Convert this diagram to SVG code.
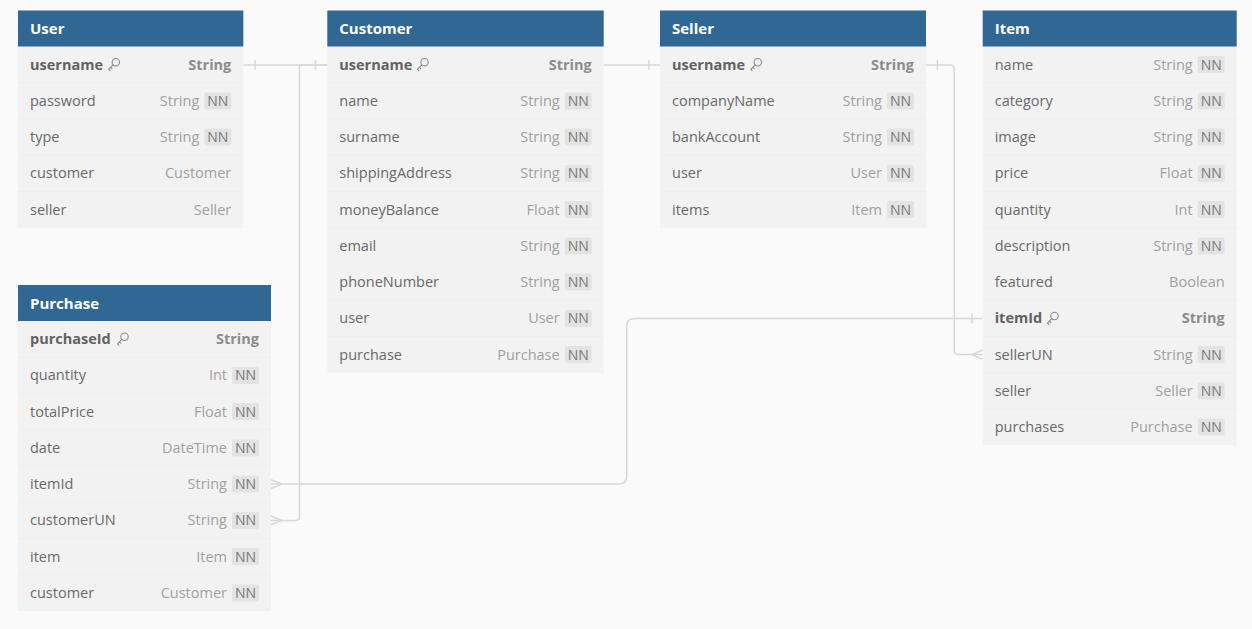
<svg xmlns="http://www.w3.org/2000/svg" width="1252" height="629" viewBox="0 0 1252 629">
<style>
.bg{fill:#fafafa}
.body{fill:#f2f2f2}
.hd{fill:#306793}
.hdt{font-family:"Open Sans","Liberation Sans",sans-serif;font-size:15px;font-weight:700;fill:#ffffff}
.nm{font-family:"Open Sans","Liberation Sans",sans-serif;font-size:14.5px;fill:#696969}
.pk{font-weight:700;fill:#626262}
.ty{font-family:"Open Sans","Liberation Sans",sans-serif;font-size:14.5px;fill:#a0a0a0;text-anchor:end}
.tyb{font-weight:700;fill:#8c8c8c}
.nn{fill:#e3e3e3}
.nnt{font-family:"Open Sans","Liberation Sans",sans-serif;font-size:14px;fill:#787878;text-anchor:middle}
.sep{stroke:#eeeeee;stroke-width:1}
.cn{fill:none;stroke:#d8d8d8;stroke-width:1.5}
.key{fill:none;stroke:#8a8a8a;stroke-width:1.1;stroke-linecap:round;stroke-linejoin:round}
</style>
<defs>
<g id="key" class="key">
<circle cx="8.3" cy="4.6" r="3.7"/>
<path d="M5.6 7.3 L1.2 11.7 L2.6 13 M3.2 9.7 L4.6 11.1"/>
</g>
</defs>
<rect class="bg" x="0" y="0" width="1252" height="629"/>

<g id="connectors">
<!-- User.username - Customer.username -->
<path class="cn" d="M243.3 65 H327.3 M255 60 V70 M315.5 60 V70"/>
<!-- User.username - Seller.username (visible between Customer and Seller) -->
<path class="cn" d="M603.7 65 H660 M649 60 V70"/>
<!-- Customer.username - Purchase.customerUN -->
<path class="cn" d="M327.3 65 H299.5 V516.4 Q299.5 520.4 295.5 520.4 H271"/>
<path class="cn" d="M282 520.4 L271 516 M282 520.4 L271 524.8"/>
<!-- Item.itemId - Purchase.itemId -->
<path class="cn" d="M271 484.1 H618.7 Q626.7 484.1 626.7 476.1 V326.4 Q626.7 318.4 634.7 318.4 H982.7 M972 313.5 V323.3"/>
<path class="cn" d="M282 484.1 L271 479.7 M282 484.1 L271 488.5"/>
<!-- Seller.username - Item.sellerUN -->
<path class="cn" d="M926 65 H950.3 Q954.3 65 954.3 69 V350.6 Q954.3 354.6 958.3 354.6 H982.7 M937.3 60 V70"/>
<path class="cn" d="M972 354.6 L982.7 350 M972 354.6 L982.7 359.2"/>
</g>

<g id="User">
<rect class="body" x="18" y="10.5" width="225.3" height="217.25"/>
<rect class="hd" x="18" y="10.5" width="225.3" height="36"/>
<text class="hdt" x="30" y="34">User</text>
<path class="sep" d="M18 82.75 H243.3 M18 119 H243.3 M18 155.25 H243.3 M18 191.5 H243.3"/>
<text class="nm pk" x="30" y="69.6">username</text><use href="#key" x="107.5" y="57.6"/><text class="ty tyb" x="231.3" y="69.6">String</text>
<text class="nm" x="30" y="105.9">password</text><text class="ty" x="199.3" y="105.9">String</text><rect class="nn" x="204.3" y="92.4" width="27" height="17" rx="2"/><text class="nnt" x="217.8" y="105.9">NN</text>
<text class="nm" x="30" y="142.1">type</text><text class="ty" x="199.3" y="142.1">String</text><rect class="nn" x="204.3" y="128.6" width="27" height="17" rx="2"/><text class="nnt" x="217.8" y="142.1">NN</text>
<text class="nm" x="30" y="178.4">customer</text><text class="ty" x="231.3" y="178.4">Customer</text>
<text class="nm" x="30" y="214.6">seller</text><text class="ty" x="231.3" y="214.6">Seller</text>
</g>

<g id="Customer">
<rect class="body" x="327.3" y="10.5" width="276.4" height="362.25"/>
<rect class="hd" x="327.3" y="10.5" width="276.4" height="36"/>
<text class="hdt" x="339.3" y="34">Customer</text>
<path class="sep" d="M327.3 82.75 H603.7 M327.3 119 H603.7 M327.3 155.25 H603.7 M327.3 191.5 H603.7 M327.3 227.75 H603.7 M327.3 264 H603.7 M327.3 300.25 H603.7 M327.3 336.5 H603.7"/>
<text class="nm pk" x="339.3" y="69.6">username</text><use href="#key" x="416.2" y="57.6"/><text class="ty tyb" x="591.7" y="69.6">String</text>
<text class="nm" x="339.3" y="105.9">name</text><text class="ty" x="559.7" y="105.9">String</text><rect class="nn" x="564.7" y="92.4" width="27" height="17" rx="2"/><text class="nnt" x="578.2" y="105.9">NN</text>
<text class="nm" x="339.3" y="142.1">surname</text><text class="ty" x="559.7" y="142.1">String</text><rect class="nn" x="564.7" y="128.6" width="27" height="17" rx="2"/><text class="nnt" x="578.2" y="142.1">NN</text>
<text class="nm" x="339.3" y="178.4">shippingAddress</text><text class="ty" x="559.7" y="178.4">String</text><rect class="nn" x="564.7" y="164.9" width="27" height="17" rx="2"/><text class="nnt" x="578.2" y="178.4">NN</text>
<text class="nm" x="339.3" y="214.6">moneyBalance</text><text class="ty" x="559.7" y="214.6">Float</text><rect class="nn" x="564.7" y="201.1" width="27" height="17" rx="2"/><text class="nnt" x="578.2" y="214.6">NN</text>
<text class="nm" x="339.3" y="250.9">email</text><text class="ty" x="559.7" y="250.9">String</text><rect class="nn" x="564.7" y="237.4" width="27" height="17" rx="2"/><text class="nnt" x="578.2" y="250.9">NN</text>
<text class="nm" x="339.3" y="287.1">phoneNumber</text><text class="ty" x="559.7" y="287.1">String</text><rect class="nn" x="564.7" y="273.6" width="27" height="17" rx="2"/><text class="nnt" x="578.2" y="287.1">NN</text>
<text class="nm" x="339.3" y="323.4">user</text><text class="ty" x="559.7" y="323.4">User</text><rect class="nn" x="564.7" y="309.9" width="27" height="17" rx="2"/><text class="nnt" x="578.2" y="323.4">NN</text>
<text class="nm" x="339.3" y="359.6">purchase</text><text class="ty" x="559.7" y="359.6">Purchase</text><rect class="nn" x="564.7" y="346.1" width="27" height="17" rx="2"/><text class="nnt" x="578.2" y="359.6">NN</text>
</g>

<g id="Seller">
<rect class="body" x="660" y="10.5" width="266" height="217.25"/>
<rect class="hd" x="660" y="10.5" width="266" height="36"/>
<text class="hdt" x="672" y="34">Seller</text>
<path class="sep" d="M660 82.75 H926 M660 119 H926 M660 155.25 H926 M660 191.5 H926"/>
<text class="nm pk" x="672" y="69.6">username</text><use href="#key" x="749.5" y="57.6"/><text class="ty tyb" x="914" y="69.6">String</text>
<text class="nm" x="672" y="105.9">companyName</text><text class="ty" x="882" y="105.9">String</text><rect class="nn" x="887" y="92.4" width="27" height="17" rx="2"/><text class="nnt" x="900.5" y="105.9">NN</text>
<text class="nm" x="672" y="142.1">bankAccount</text><text class="ty" x="882" y="142.1">String</text><rect class="nn" x="887" y="128.6" width="27" height="17" rx="2"/><text class="nnt" x="900.5" y="142.1">NN</text>
<text class="nm" x="672" y="178.4">user</text><text class="ty" x="882" y="178.4">User</text><rect class="nn" x="887" y="164.9" width="27" height="17" rx="2"/><text class="nnt" x="900.5" y="178.4">NN</text>
<text class="nm" x="672" y="214.6">items</text><text class="ty" x="882" y="214.6">Item</text><rect class="nn" x="887" y="201.1" width="27" height="17" rx="2"/><text class="nnt" x="900.5" y="214.6">NN</text>
</g>

<g id="Item">
<rect class="body" x="982.7" y="10.5" width="254" height="434.75"/>
<rect class="hd" x="982.7" y="10.5" width="254" height="36"/>
<text class="hdt" x="994.7" y="34">Item</text>
<path class="sep" d="M982.7 82.75 H1236.7 M982.7 119 H1236.7 M982.7 155.25 H1236.7 M982.7 191.5 H1236.7 M982.7 227.75 H1236.7 M982.7 264 H1236.7 M982.7 300.25 H1236.7 M982.7 336.5 H1236.7 M982.7 372.75 H1236.7 M982.7 409 H1236.7"/>
<text class="nm" x="994.7" y="69.6">name</text><text class="ty" x="1192.7" y="69.6">String</text><rect class="nn" x="1197.7" y="56.1" width="27" height="17" rx="2"/><text class="nnt" x="1211.2" y="69.6">NN</text>
<text class="nm" x="994.7" y="105.9">category</text><text class="ty" x="1192.7" y="105.9">String</text><rect class="nn" x="1197.7" y="92.4" width="27" height="17" rx="2"/><text class="nnt" x="1211.2" y="105.9">NN</text>
<text class="nm" x="994.7" y="142.1">image</text><text class="ty" x="1192.7" y="142.1">String</text><rect class="nn" x="1197.7" y="128.6" width="27" height="17" rx="2"/><text class="nnt" x="1211.2" y="142.1">NN</text>
<text class="nm" x="994.7" y="178.4">price</text><text class="ty" x="1192.7" y="178.4">Float</text><rect class="nn" x="1197.7" y="164.9" width="27" height="17" rx="2"/><text class="nnt" x="1211.2" y="178.4">NN</text>
<text class="nm" x="994.7" y="214.6">quantity</text><text class="ty" x="1192.7" y="214.6">Int</text><rect class="nn" x="1197.7" y="201.1" width="27" height="17" rx="2"/><text class="nnt" x="1211.2" y="214.6">NN</text>
<text class="nm" x="994.7" y="250.9">description</text><text class="ty" x="1192.7" y="250.9">String</text><rect class="nn" x="1197.7" y="237.4" width="27" height="17" rx="2"/><text class="nnt" x="1211.2" y="250.9">NN</text>
<text class="nm" x="994.7" y="287.1">featured</text><text class="ty" x="1224.7" y="287.1">Boolean</text>
<text class="nm pk" x="994.7" y="323.4">itemId</text><use href="#key" x="1046.2" y="311.4"/><text class="ty tyb" x="1224.7" y="323.4">String</text>
<text class="nm" x="994.7" y="359.6">sellerUN</text><text class="ty" x="1192.7" y="359.6">String</text><rect class="nn" x="1197.7" y="346.1" width="27" height="17" rx="2"/><text class="nnt" x="1211.2" y="359.6">NN</text>
<text class="nm" x="994.7" y="395.9">seller</text><text class="ty" x="1192.7" y="395.9">Seller</text><rect class="nn" x="1197.7" y="382.4" width="27" height="17" rx="2"/><text class="nnt" x="1211.2" y="395.9">NN</text>
<text class="nm" x="994.7" y="432.1">purchases</text><text class="ty" x="1192.7" y="432.1">Purchase</text><rect class="nn" x="1197.7" y="418.6" width="27" height="17" rx="2"/><text class="nnt" x="1211.2" y="432.1">NN</text>
</g>

<g id="Purchase">
<rect class="body" x="18" y="285" width="253" height="326"/>
<rect class="hd" x="18" y="285" width="253" height="36"/>
<text class="hdt" x="30" y="308.5">Purchase</text>
<path class="sep" d="M18 357.25 H271 M18 393.5 H271 M18 429.75 H271 M18 466 H271 M18 502.25 H271 M18 538.5 H271 M18 574.75 H271"/>
<text class="nm pk" x="30" y="344.1">purchaseId</text><use href="#key" x="116.2" y="332.1"/><text class="ty tyb" x="259" y="344.1">String</text>
<text class="nm" x="30" y="380.4">quantity</text><text class="ty" x="227" y="380.4">Int</text><rect class="nn" x="232" y="366.9" width="27" height="17" rx="2"/><text class="nnt" x="245.5" y="380.4">NN</text>
<text class="nm" x="30" y="416.6">totalPrice</text><text class="ty" x="227" y="416.6">Float</text><rect class="nn" x="232" y="403.1" width="27" height="17" rx="2"/><text class="nnt" x="245.5" y="416.6">NN</text>
<text class="nm" x="30" y="452.9">date</text><text class="ty" x="227" y="452.9">DateTime</text><rect class="nn" x="232" y="439.4" width="27" height="17" rx="2"/><text class="nnt" x="245.5" y="452.9">NN</text>
<text class="nm" x="30" y="489.1">itemId</text><text class="ty" x="227" y="489.1">String</text><rect class="nn" x="232" y="475.6" width="27" height="17" rx="2"/><text class="nnt" x="245.5" y="489.1">NN</text>
<text class="nm" x="30" y="525.4">customerUN</text><text class="ty" x="227" y="525.4">String</text><rect class="nn" x="232" y="511.9" width="27" height="17" rx="2"/><text class="nnt" x="245.5" y="525.4">NN</text>
<text class="nm" x="30" y="561.6">item</text><text class="ty" x="227" y="561.6">Item</text><rect class="nn" x="232" y="548.1" width="27" height="17" rx="2"/><text class="nnt" x="245.5" y="561.6">NN</text>
<text class="nm" x="30" y="597.9">customer</text><text class="ty" x="227" y="597.9">Customer</text><rect class="nn" x="232" y="584.4" width="27" height="17" rx="2"/><text class="nnt" x="245.5" y="597.9">NN</text>
</g>
</svg>
